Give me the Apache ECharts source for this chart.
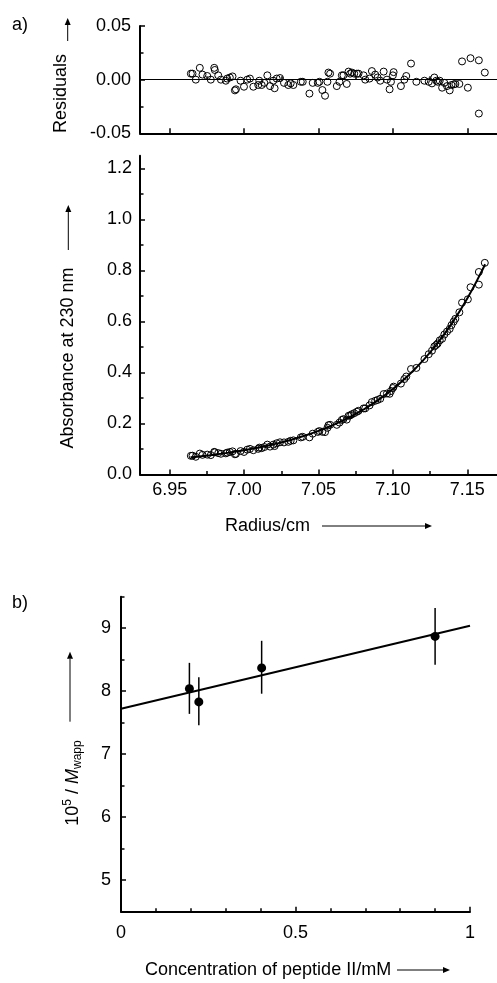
<!DOCTYPE html>
<html><head><meta charset="utf-8">
<script src="https://cdn.jsdelivr.net/npm/echarts@6/dist/echarts.min.js"></script>
<style>html,body{margin:0;padding:0;background:#fff}#c{width:497px;height:983px}</style>
</head><body><div id="c"></div>
<script>
const FONT = '"Liberation Sans", Arial, Helvetica, sans-serif';

// ---- panel a data ----
const radius = [6.9642,6.9653,6.9675,6.9702,6.9720,6.9752,6.9776,6.9799,6.9803,6.9826,6.9844,6.9877,6.9886,6.9904,6.9922,6.9938,6.9945,6.9976,6.9999,7.0021,7.0039,7.0062,7.0095,7.0102,7.0118,7.0136,7.0156,7.0174,7.0196,7.0205,7.0219,7.0241,7.0268,7.0297,7.0313,7.0331,7.0381,7.0394,7.0439,7.0461,7.0495,7.0506,7.0526,7.0544,7.0560,7.0567,7.0578,7.0623,7.0641,7.0657,7.0668,7.0690,7.0702,7.0713,7.0724,7.0740,7.0758,7.0769,7.0803,7.0814,7.0843,7.0859,7.0881,7.0897,7.0915,7.0938,7.0960,7.0978,7.0987,7.1000,7.1005,7.1054,7.1077,7.1090,7.1122,7.1158,7.1212,7.1241,7.1263,7.1279,7.1292,7.1301,7.1315,7.1331,7.1346,7.1364,7.1382,7.1394,7.1409,7.1420,7.1447,7.1465,7.1504,7.1522,7.1578,7.1578,7.1618];
const residual = [0.0056,0.0056,0.0000,0.0110,0.0047,0.0034,0.0000,0.0110,0.0090,0.0040,0.0000,-0.0010,0.0010,0.0020,0.0030,-0.0100,-0.0090,-0.0010,-0.0066,0.0000,0.0010,-0.0066,-0.0050,-0.0010,-0.0050,-0.0030,0.0040,-0.0060,-0.0010,-0.0080,0.0010,0.0015,-0.0030,-0.0050,-0.0035,-0.0050,-0.0020,-0.0020,-0.0130,-0.0030,-0.0030,-0.0020,-0.0097,-0.0150,-0.0020,0.0066,0.0056,-0.0060,-0.0020,0.0040,0.0040,-0.0040,0.0075,0.0056,0.0066,0.0056,0.0056,0.0056,0.0040,0.0000,0.0010,0.0080,0.0047,0.0020,-0.0010,0.0075,0.0000,-0.0090,-0.0020,0.0040,0.0070,-0.0060,0.0000,0.0034,0.0150,-0.0020,-0.0010,-0.0020,-0.0035,0.0020,-0.0010,-0.0020,-0.0010,-0.0075,-0.0030,-0.0060,-0.0100,-0.0050,-0.0044,-0.0040,-0.0040,0.0170,-0.0075,0.0200,0.0180,-0.0316,0.0066];
const absorbance = [0.0732,0.0738,0.0695,0.0821,0.0771,0.0779,0.0761,0.0887,0.0870,0.0839,0.0813,0.0830,0.0857,0.0882,0.0908,0.0793,0.0810,0.0919,0.0884,0.0974,0.1004,0.0953,0.1005,0.1053,0.1033,0.1076,0.1171,0.1094,0.1172,0.1115,0.1225,0.1263,0.1258,0.1281,0.1322,0.1339,0.1455,0.1478,0.1456,0.1601,0.1669,0.1703,0.1673,0.1663,0.1831,0.1933,0.1949,0.1948,0.2037,0.2141,0.2171,0.2152,0.2300,0.2317,0.2362,0.2404,0.2462,0.2497,0.2591,0.2592,0.2710,0.2840,0.2890,0.2923,0.2969,0.3155,0.3176,0.3164,0.3273,0.3390,0.3445,0.3565,0.3742,0.3842,0.4135,0.4179,0.4527,0.4718,0.4856,0.5022,0.5082,0.5135,0.5258,0.5323,0.5489,0.5605,0.5710,0.5857,0.5998,0.6105,0.6360,0.6740,0.6870,0.7343,0.7942,0.7446,0.8300];
const fitRadius = [6.964,6.97,6.98,6.99,7.00,7.01,7.02,7.03,7.04,7.05,7.06,7.07,7.08,7.09,7.10,7.11,7.12,7.13,7.14,7.15,7.16,7.162];
const fitAbsorbance = [0.0675,0.0710,0.0778,0.0858,0.0951,0.1060,0.1187,0.1335,0.1508,0.1709,0.1945,0.2219,0.2540,0.2914,0.3350,0.3859,0.4453,0.5147,0.5956,0.6901,0.8003,0.8244];
const radiusLabels = [6.95,7.00,7.05,7.10,7.15];
const radiusMinor = [6.975,7.025,7.075,7.125];
const residualLabels = [-0.05,0.00,0.05];
const residualMinor = [-0.025,0.025];
const absLabels = [0.0,0.2,0.4,0.6,0.8,1.0,1.2];
const absMinor = [0.1,0.3,0.5,0.7,0.9,1.1];

// ---- panel b data ----
const conc = [0.196,0.223,0.403,0.900];
const invM = [8.04,7.83,8.37,8.87];
const invMLow = [7.64,7.46,7.96,8.42];
const invMHigh = [8.45,8.22,8.80,9.32];
const fitConc = [0,1];
const fitInvM = [7.72,9.04];
const concLabels = [0,0.5,1];
const concMinor = [0.1,0.2,0.3,0.4,0.6,0.7,0.8,0.9];
const invMLabels = [5,6,7,8,9];
const invMMinor = [4.5,5.5,6.5,7.5,8.5,9.5];

const BLACK = '#000';
const labelStyle = {color: BLACK, fontSize: 18, fontFamily: FONT};

function xMain(grid, min, max, labels, showLabels, fmt, margin) {
  return {type:'value', gridIndex:grid, min, max, position:'bottom', offset:0,
    axisLine:{show:true, onZero:false, lineStyle:{color:BLACK, width:2}},
    axisTick:{show:true, inside:true, length:5, customValues:labels, lineStyle:{color:BLACK, width:1.5}},
    axisLabel:Object.assign({show:showLabels, customValues:labels, formatter:fmt, margin}, labelStyle),
    splitLine:{show:false}};
}
function xMinor(grid, min, max, minors) {
  return {type:'value', gridIndex:grid, min, max, position:'bottom', offset:0,
    axisLine:{show:false}, axisTick:{show:true, inside:true, length:3.5, customValues:minors, lineStyle:{color:BLACK, width:1.5}},
    axisLabel:{show:false}, splitLine:{show:false}};
}
function yMain(grid, min, max, labels, fmt, margin) {
  return {type:'value', gridIndex:grid, min, max, position:'left', offset:0,
    axisLine:{show:true, onZero:false, lineStyle:{color:BLACK, width:2}},
    axisTick:{show:true, inside:true, length:5, customValues:labels, lineStyle:{color:BLACK, width:1.5}},
    axisLabel:Object.assign({show:true, customValues:labels, formatter:fmt, margin}, labelStyle),
    splitLine:{show:false}};
}
function yMinor(grid, min, max, minors) {
  return {type:'value', gridIndex:grid, min, max, position:'left', offset:0,
    axisLine:{show:false}, axisTick:{show:true, inside:true, length:3.5, customValues:minors, lineStyle:{color:BLACK, width:1.5}},
    axisLabel:{show:false}, splitLine:{show:false}};
}

function arrow(x1, y1, x2, y2) {
  const dx = x2 - x1, dy = y2 - y1, L = Math.hypot(dx, dy);
  const ux = dx / L, uy = dy / L, hl = 7, hw = 3;
  const bx = x2 - ux * hl, by = y2 - uy * hl;
  return [
    {type:'line', silent:true, shape:{x1, y1, x2:bx, y2:by}, style:{stroke:BLACK, lineWidth:1}},
    {type:'polygon', silent:true, shape:{points:[[x2,y2],[bx - uy*hw, by + ux*hw],[bx + uy*hw, by - ux*hw]]}, style:{fill:BLACK}}
  ];
}
function txt(x, y, text, opts) {
  return Object.assign({type:'text', silent:true, x, y,
    style:Object.assign({text, fill:BLACK, fontSize:18, fontFamily:FONT, align:'left', verticalAlign:'middle'}, (opts && opts.style) || {})},
    (opts && opts.el) || {});
}

const chart = echarts.init(document.getElementById('c'), null, {renderer:'canvas'});
const hollow = {color:'rgba(0,0,0,0)', borderColor:BLACK, borderWidth:1, opacity:1};

chart.setOption({
  animation:false,
  backgroundColor:'#fff',
  grid:[
    {left:140, top:26, width:357, height:107.3},
    {left:140, top:155.75, width:357, height:318.75},
    {left:121, top:596.7, width:349, height:315}
  ],
  xAxis:[
    xMain(0, 6.93, 7.17, radiusLabels, false, v=>v.toFixed(2), 8),
    xMinor(0, 6.93, 7.17, radiusMinor),
    xMain(1, 6.93, 7.17, radiusLabels, true, v=>v.toFixed(2), 7),
    xMinor(1, 6.93, 7.17, radiusMinor),
    xMain(2, 0, 1, concLabels, true, v=>String(v), 12),
    xMinor(2, 0, 1, concMinor)
  ],
  yAxis:[
    yMain(0, -0.05, 0.05, residualLabels, v=>v.toFixed(2), 9),
    yMinor(0, -0.05, 0.05, residualMinor),
    yMain(1, 0, 1.25, absLabels, v=>v.toFixed(1), 8),
    yMinor(1, 0, 1.25, absMinor),
    yMain(2, 4.5, 9.5, invMLabels, v=>String(v), 10),
    yMinor(2, 4.5, 9.5, invMMinor)
  ],
  series:[
    {type:'scatter', xAxisIndex:0, yAxisIndex:0, symbol:'circle', symbolSize:7, itemStyle:hollow,
      data:radius.map((r,i)=>[r, residual[i]]),
      markLine:{silent:true, symbol:'none', label:{show:false}, lineStyle:{color:BLACK, width:1, type:'solid', opacity:1}, data:[{yAxis:0}]}},
    {type:'line', xAxisIndex:2, yAxisIndex:2, smooth:true, showSymbol:false, symbol:'none',
      lineStyle:{color:BLACK, width:2}, data:fitRadius.map((r,i)=>[r, fitAbsorbance[i]]), z:3},
    {type:'scatter', xAxisIndex:2, yAxisIndex:2, symbol:'circle', symbolSize:7, itemStyle:hollow,
      data:radius.map((r,i)=>[r, absorbance[i]]), z:4},
    {type:'line', xAxisIndex:4, yAxisIndex:4, showSymbol:false, symbol:'none',
      lineStyle:{color:BLACK, width:2}, data:fitConc.map((c,i)=>[c, fitInvM[i]])},
    {type:'custom', xAxisIndex:4, yAxisIndex:4, encode:{x:0, y:[1,2]},
      data:conc.map((c,i)=>[c, invMLow[i], invMHigh[i]]),
      renderItem:(params, api)=>{
        const p1 = api.coord([api.value(0), api.value(1)]);
        const p2 = api.coord([api.value(0), api.value(2)]);
        return {type:'line', shape:{x1:p1[0], y1:p1[1], x2:p2[0], y2:p2[1]}, style:{stroke:BLACK, lineWidth:1.5}};
      }},
    {type:'scatter', xAxisIndex:4, yAxisIndex:4, symbol:'circle', symbolSize:9,
      itemStyle:{color:BLACK, opacity:1}, data:conc.map((c,i)=>[c, invM[i]]), z:5}
  ],
  graphic:[
    txt(12, 25, 'a)'),
    txt(12, 603, 'b)'),
    txt(61, 93.5, 'Residuals', {style:{align:'center'}, el:{rotation:Math.PI/2}}),
    ...arrow(67.7, 41, 67.7, 18),
    txt(68, 358, 'Absorbance at 230 nm', {style:{align:'center'}, el:{rotation:Math.PI/2}}),
    ...arrow(68.3, 250, 68.3, 205),
    txt(225, 526, 'Radius/cm'),
    ...arrow(322, 526, 432, 526),
    {type:'text', silent:true, x:73, y:783, rotation:Math.PI/2,
      style:{text:'{n|10}{sup|5}{n| / }{i|M}{sub|wapp}', align:'center', verticalAlign:'middle', fill:BLACK,
        fontFamily:FONT, fontSize:18,
        rich:{
          n:{fontSize:18, fontFamily:FONT, fill:BLACK, lineHeight:22},
          i:{fontSize:18, fontFamily:FONT, fontStyle:'italic', fill:BLACK, lineHeight:22},
          sup:{fontSize:12, fontFamily:FONT, fill:BLACK, lineHeight:12, verticalAlign:'top'},
          sub:{fontSize:12, fontFamily:FONT, fill:BLACK, lineHeight:12, verticalAlign:'bottom'}
        }}},
    ...arrow(70, 721.7, 70, 651.7),
    txt(145, 970, 'Concentration of peptide II/mM'),
    ...arrow(397, 970, 450, 970)
  ]
});
</script>
</body></html>
